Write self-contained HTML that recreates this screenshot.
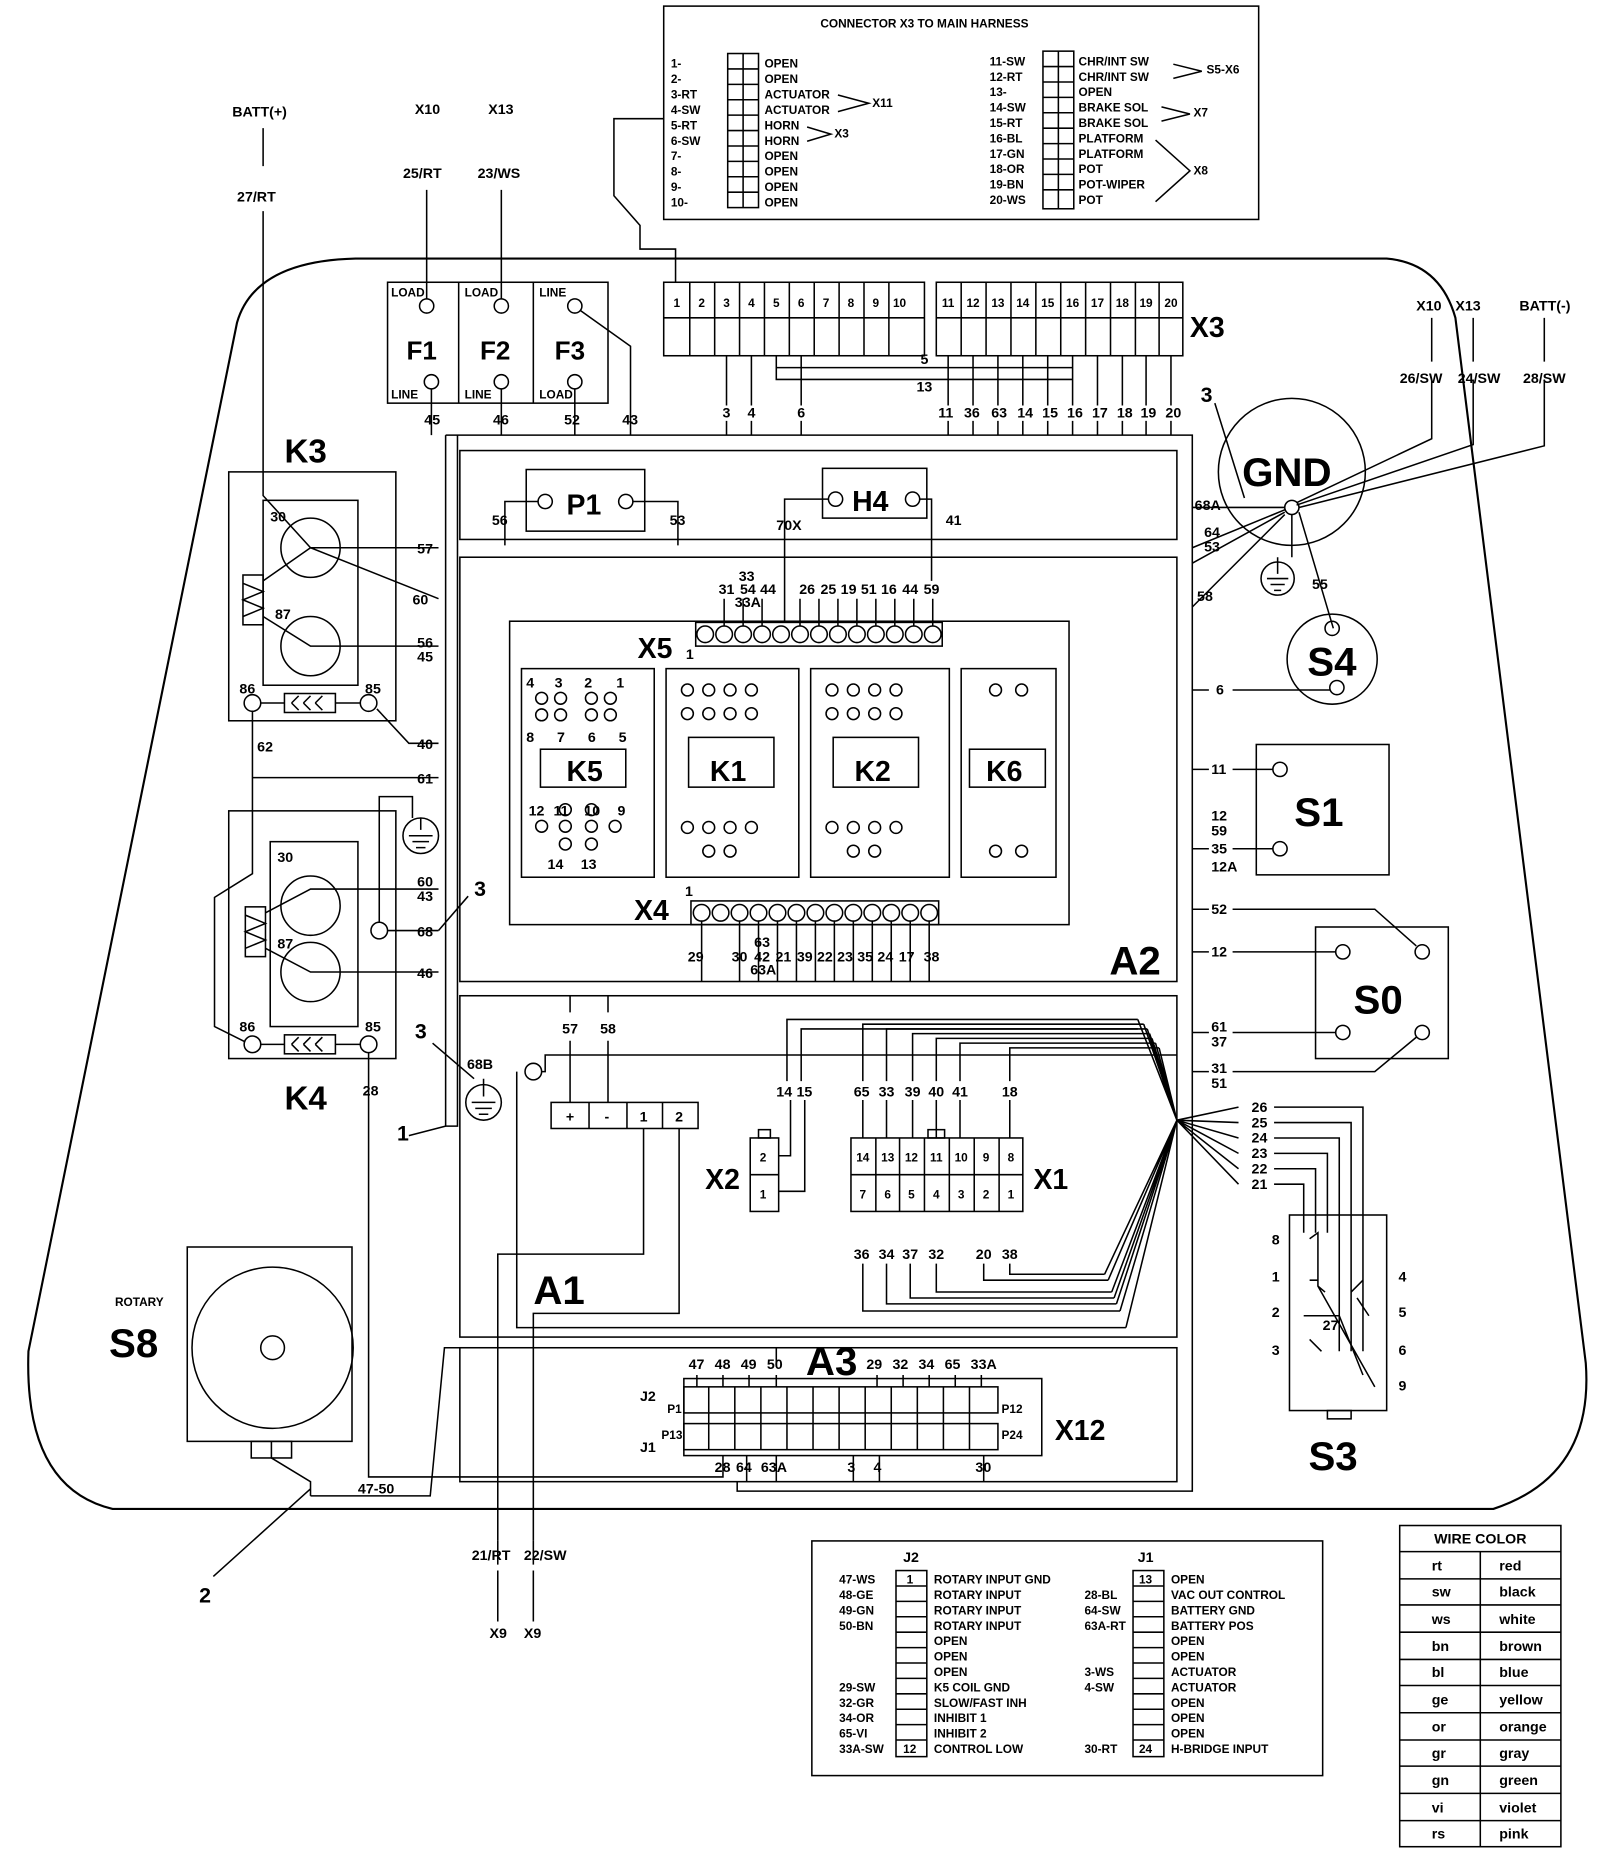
<!DOCTYPE html>
<html><head><meta charset="utf-8"><style>
html,body{margin:0;padding:0;background:#fff}
svg{display:block}
text{font-family:"Liberation Sans",sans-serif;font-weight:bold;fill:#000}
.s{font-size:10px}.m{font-size:12px}.b{font-size:26px}.xl{font-size:34px}
</style></head><body>
<svg width="1600" height="1854" viewBox="0 0 1350 1564" xmlns="http://www.w3.org/2000/svg" fill="none" stroke="#000" stroke-width="1.3">
<path d="M300 218 L1170 218 Q1215 222 1228 268 L1338 1150 Q1345 1245 1260 1273 L95 1273 Q20 1255 24 1140 L200 272 Q215 220 300 218 Z" stroke-width="1.8"/>
<rect x="560" y="5" width="502" height="180"/>
<text x="780" y="23" class="s" text-anchor="middle" stroke="none">CONNECTOR X3 TO MAIN HARNESS</text>
<g stroke="none" class="s">
<text x="566" y="57" class="s">1-</text><text x="566" y="70" class="s">2-</text><text x="566" y="83" class="s">3-RT</text><text x="566" y="96" class="s">4-SW</text><text x="566" y="109" class="s">5-RT</text><text x="566" y="122" class="s">6-SW</text><text x="566" y="135" class="s">7-</text><text x="566" y="148" class="s">8-</text><text x="566" y="161" class="s">9-</text><text x="566" y="174" class="s">10-</text>
<text x="645" y="57" class="s">OPEN</text><text x="645" y="70" class="s">OPEN</text><text x="645" y="83" class="s">ACTUATOR</text><text x="645" y="96" class="s">ACTUATOR</text><text x="645" y="109" class="s">HORN</text><text x="645" y="122" class="s">HORN</text><text x="645" y="135" class="s">OPEN</text><text x="645" y="148" class="s">OPEN</text><text x="645" y="161" class="s">OPEN</text><text x="645" y="174" class="s">OPEN</text>
<text x="835" y="55" class="s">11-SW</text><text x="835" y="68" class="s">12-RT</text><text x="835" y="81" class="s">13-</text><text x="835" y="94" class="s">14-SW</text><text x="835" y="107" class="s">15-RT</text><text x="835" y="120" class="s">16-BL</text><text x="835" y="133" class="s">17-GN</text><text x="835" y="146" class="s">18-OR</text><text x="835" y="159" class="s">19-BN</text><text x="835" y="172" class="s">20-WS</text>
<text x="910" y="55" class="s">CHR/INT SW</text><text x="910" y="68" class="s">CHR/INT SW</text><text x="910" y="81" class="s">OPEN</text><text x="910" y="94" class="s">BRAKE SOL</text><text x="910" y="107" class="s">BRAKE SOL</text><text x="910" y="120" class="s">PLATFORM</text><text x="910" y="133" class="s">PLATFORM</text><text x="910" y="146" class="s">POT</text><text x="910" y="159" class="s">POT-WIPER</text><text x="910" y="172" class="s">POT</text>
<text x="736" y="90" class="s">X11</text><text x="704" y="116" class="s">X3</text><text x="1018" y="62" class="s">S5-X6</text><text x="1007" y="98" class="s">X7</text><text x="1007" y="147" class="s">X8</text>
</g>
<rect x="614" y="45" width="26" height="130"/><line x1="627" y1="45" x2="627" y2="175"/>
<rect x="880" y="43" width="26" height="133"/><line x1="893" y1="43" x2="893" y2="176"/>
<path d="M614 58H640M614 71H640M614 84H640M614 97H640M614 110H640M614 123H640M614 136H640M614 149H640M614 162H640"/>
<path d="M880 56H906M880 69H906M880 82H906M880 95H906M880 108H906M880 121H906M880 134H906M880 147H906M880 160H906"/>
<path d="M707 80L733 87L707 94M681 107L701 113L681 119M990 54L1014 60L990 66M980 90L1004 96L980 102M975 118L1004 144L975 170"/>
<rect x="327" y="238" width="186" height="102"/><line x1="387" y1="238" x2="387" y2="340"/><line x1="450" y1="238" x2="450" y2="340"/>
<g stroke="none"><text x="330" y="250" class="s">LOAD</text><text x="392" y="250" class="s">LOAD</text><text x="455" y="250" class="s">LINE</text>
<text x="330" y="336" class="s">LINE</text><text x="392" y="336" class="s">LINE</text><text x="455" y="336" class="s">LOAD</text>
<text x="343" y="303" class="b" style="font-size:22px">F1</text><text x="405" y="303" class="b" style="font-size:22px">F2</text><text x="468" y="303" class="b" style="font-size:22px">F3</text></g>
<circle cx="360" cy="258" r="6"/><circle cx="423" cy="258" r="6"/><circle cx="485" cy="258" r="6"/>
<circle cx="364" cy="322" r="6"/><circle cx="423" cy="322" r="6"/><circle cx="485" cy="322" r="6"/>
<path d="M360 252V160M423 252V160M490 262L532 292V367M364 328V367M423 328V367M485 328V367"/>
<g stroke="none"><text x="350" y="96" class="m">X10</text><text x="412" y="96" class="m">X13</text><text x="340" y="150" class="m">25/RT</text><text x="403" y="150" class="m">23/WS</text>
<text x="196" y="98" class="m">BATT(+)</text><text x="200" y="170" class="m">27/RT</text>
<text x="358" y="358" class="m">45</text><text x="416" y="358" class="m">46</text><text x="476" y="358" class="m">52</text><text x="525" y="358" class="m">43</text></g>
<path d="M222 108V140M222 178V418L262 462L370 505M262 462H370"/>
<rect x="560" y="238" width="220" height="62"/><line x1="560" y1="268" x2="780" y2="268"/>
<rect x="790" y="238" width="208" height="62"/><line x1="790" y1="268" x2="998" y2="268"/>
<path d="M582 238V300M603 238V300M624 238V300M645 238V300M666 238V300M687 238V300M708 238V300M729 238V300M750 238V300"/>
<path d="M811 238V300M832 238V300M853 238V300M874 238V300M895 238V300M916 238V300M937 238V300M958 238V300M978 238V300"/>
<g stroke="none" class="s" text-anchor="middle">
<text x="571" y="259">1</text><text x="592" y="259">2</text><text x="613" y="259">3</text><text x="634" y="259">4</text><text x="655" y="259">5</text><text x="676" y="259">6</text><text x="697" y="259">7</text><text x="718" y="259">8</text><text x="739" y="259">9</text><text x="759" y="259">10</text>
<text x="800" y="259">11</text><text x="821" y="259">12</text><text x="842" y="259">13</text><text x="863" y="259">14</text><text x="884" y="259">15</text><text x="905" y="259">16</text><text x="926" y="259">17</text><text x="947" y="259">18</text><text x="967" y="259">19</text><text x="988" y="259">20</text>
</g>
<text x="1004" y="284" class="b" stroke="none" style="font-size:24px">X3</text>
<path d="M570 238V210H540V190L518 165V100H560"/>
<path d="M613 300V342M634 300V342M676 300V342M655 300V310H905V300M655 300V320H905M821 300V342M842 300V342M800 300V342M863 300V342M884 300V342M905 300V342M926 300V342M947 300V342M967 300V342M988 300V342M676 300V320"/>
<g stroke="none" class="m" text-anchor="middle"><text x="780" y="307">5</text><text x="780" y="330">13</text>
<text x="613" y="352">3</text><text x="634" y="352">4</text><text x="676" y="352">6</text><text x="798" y="352">11</text><text x="820" y="352">36</text><text x="843" y="352">63</text><text x="865" y="352">14</text><text x="886" y="352">15</text><text x="907" y="352">16</text><text x="928" y="352">17</text><text x="949" y="352">18</text><text x="969" y="352">19</text><text x="990" y="352">20</text></g>
<path d="M613 355V367M634 355V367M676 355V367M800 355V367M821 355V367M842 355V367M863 355V367M884 355V367M905 355V367M926 355V367M947 355V367M967 355V367M988 355V367"/>
<path d="M376 367H1006V1258H622V1250M376 367V950H386V367"/>
<rect x="388" y="380" width="605" height="75"/>
<rect x="388" y="470" width="605" height="358"/>
<rect x="388" y="840" width="605" height="288"/>
<rect x="388" y="1137" width="605" height="113"/>
<rect x="444" y="396" width="100" height="52"/><circle cx="460" cy="423" r="6"/><circle cx="528" cy="423" r="6"/>
<text x="478" y="434" class="b" stroke="none" style="font-size:24px">P1</text>
<rect x="694" y="395" width="88" height="42"/><circle cx="705" cy="421" r="6"/><circle cx="770" cy="421" r="6"/>
<text x="719" y="431" class="b" stroke="none" style="font-size:24px">H4</text>
<path d="M454 423H426V460M534 423H572V460M699 421H662V525M776 421H786V490"/>
<g stroke="none" class="m"><text x="415" y="443">56</text><text x="565" y="443">53</text><text x="655" y="447">70X</text><text x="798" y="443">41</text>
<text x="1008" y="430">68A</text><text x="1016" y="453">64</text><text x="1016" y="465">53</text><text x="1010" y="507">58</text></g>
<rect x="587" y="525" width="208" height="20"/>
<g><circle cx="595" cy="535" r="7"/><circle cx="611" cy="535" r="7"/><circle cx="627" cy="535" r="7"/><circle cx="643" cy="535" r="7"/><circle cx="659" cy="535" r="7"/><circle cx="675" cy="535" r="7"/><circle cx="691" cy="535" r="7"/><circle cx="707" cy="535" r="7"/><circle cx="723" cy="535" r="7"/><circle cx="739" cy="535" r="7"/><circle cx="755" cy="535" r="7"/><circle cx="771" cy="535" r="7"/><circle cx="787" cy="535" r="7"/></g>
<path d="M611 505V528M627 505V528M643 505V528M675 505V528M691 505V528M707 505V528M723 505V528M739 505V528M755 505V528M771 505V528M787 505V528"/>
<g stroke="none" class="m" text-anchor="middle"><text x="613" y="501">31</text><text x="630" y="490">33</text><text x="631" y="501">54</text><text x="648" y="501">44</text><text x="631" y="512">33A</text><text x="681" y="501">26</text><text x="699" y="501">25</text><text x="716" y="501">19</text><text x="733" y="501">51</text><text x="750" y="501">16</text><text x="768" y="501">44</text><text x="786" y="501">59</text><text x="582" y="556">1</text></g>
<text x="538" y="555" class="b" stroke="none" style="font-size:24px">X5</text>
<rect x="430" y="524" width="472" height="256"/>
<rect x="440" y="564" width="112" height="176"/><rect x="562" y="564" width="112" height="176"/><rect x="684" y="564" width="117" height="176"/><rect x="811" y="564" width="80" height="176"/>
<rect x="456" y="632" width="72" height="32"/><rect x="581" y="622" width="72" height="42"/><rect x="703" y="622" width="72" height="42"/><rect x="818" y="632" width="64" height="32"/>
<g stroke="none"><text x="478" y="659" class="b" style="font-size:24px">K5</text><text x="599" y="659" class="b" style="font-size:24px">K1</text><text x="721" y="659" class="b" style="font-size:24px">K2</text><text x="832" y="659" class="b" style="font-size:24px">K6</text></g>
<g>
<circle cx="457" cy="589" r="5"/><circle cx="473" cy="589" r="5"/><circle cx="499" cy="589" r="5"/><circle cx="515" cy="589" r="5"/>
<circle cx="457" cy="603" r="5"/><circle cx="473" cy="603" r="5"/><circle cx="499" cy="603" r="5"/><circle cx="515" cy="603" r="5"/>
<circle cx="457" cy="697" r="5"/><circle cx="477" cy="697" r="5"/><circle cx="499" cy="697" r="5"/><circle cx="519" cy="697" r="5"/>
<circle cx="477" cy="683" r="5"/><circle cx="499" cy="683" r="5"/><circle cx="477" cy="712" r="5"/><circle cx="499" cy="712" r="5"/>
<circle cx="580" cy="582" r="5"/><circle cx="598" cy="582" r="5"/><circle cx="616" cy="582" r="5"/><circle cx="634" cy="582" r="5"/>
<circle cx="580" cy="602" r="5"/><circle cx="598" cy="602" r="5"/><circle cx="616" cy="602" r="5"/><circle cx="634" cy="602" r="5"/>
<circle cx="580" cy="698" r="5"/><circle cx="598" cy="698" r="5"/><circle cx="616" cy="698" r="5"/><circle cx="634" cy="698" r="5"/><circle cx="598" cy="718" r="5"/><circle cx="616" cy="718" r="5"/>
<circle cx="702" cy="582" r="5"/><circle cx="720" cy="582" r="5"/><circle cx="738" cy="582" r="5"/><circle cx="756" cy="582" r="5"/>
<circle cx="702" cy="602" r="5"/><circle cx="720" cy="602" r="5"/><circle cx="738" cy="602" r="5"/><circle cx="756" cy="602" r="5"/>
<circle cx="702" cy="698" r="5"/><circle cx="720" cy="698" r="5"/><circle cx="738" cy="698" r="5"/><circle cx="756" cy="698" r="5"/><circle cx="720" cy="718" r="5"/><circle cx="738" cy="718" r="5"/>
<circle cx="840" cy="582" r="5"/><circle cx="862" cy="582" r="5"/><circle cx="840" cy="718" r="5"/><circle cx="862" cy="718" r="5"/>
</g>
<g stroke="none" class="m"><text x="444" y="580">4</text><text x="468" y="580">3</text><text x="493" y="580">2</text><text x="520" y="580">1</text><text x="444" y="626">8</text><text x="470" y="626">7</text><text x="496" y="626">6</text><text x="522" y="626">5</text>
<text x="446" y="688">12</text><text x="467" y="688">11</text><text x="493" y="688">10</text><text x="521" y="688">9</text><text x="462" y="733">14</text><text x="490" y="733">13</text></g>
<rect x="583" y="760" width="209" height="20"/>
<g><circle cx="592" cy="770" r="7"/><circle cx="608" cy="770" r="7"/><circle cx="624" cy="770" r="7"/><circle cx="640" cy="770" r="7"/><circle cx="656" cy="770" r="7"/><circle cx="672" cy="770" r="7"/><circle cx="688" cy="770" r="7"/><circle cx="704" cy="770" r="7"/><circle cx="720" cy="770" r="7"/><circle cx="736" cy="770" r="7"/><circle cx="752" cy="770" r="7"/><circle cx="768" cy="770" r="7"/><circle cx="784" cy="770" r="7"/></g>
<text x="535" y="776" class="b" stroke="none" style="font-size:24px">X4</text><text x="578" y="756" class="m" stroke="none">1</text>
<path d="M592 777V828M624 777V828M640 777V828M656 777V828M672 777V828M688 777V828M704 777V828M720 777V828M736 777V828M752 777V828M768 777V828M784 777V828"/>
<g stroke="none" class="m" text-anchor="middle"><text x="587" y="811">29</text><text x="624" y="811">30</text><text x="643" y="799">63</text><text x="643" y="811">42</text><text x="644" y="822">63A</text><text x="661" y="811">21</text><text x="679" y="811">39</text><text x="696" y="811">22</text><text x="713" y="811">23</text><text x="730" y="811">35</text><text x="747" y="811">24</text><text x="765" y="811">17</text><text x="786" y="811">38</text></g>
<text x="936" y="822" class="xl" stroke="none">A2</text>
<rect x="193" y="398" width="141" height="210"/><rect x="222" y="422" width="80" height="156"/>
<circle cx="262" cy="462" r="25"/><circle cx="262" cy="545" r="25"/>
<rect x="205" y="485" width="17" height="42"/><path d="M205 492L222 499L205 506L222 513L205 520"/>
<path d="M222 490L262 462M222 520L262 545L370 545"/>
<circle cx="213" cy="593" r="7"/><circle cx="311" cy="593" r="7"/><rect x="240" y="585" width="43" height="16"/>
<path d="M220 593H240M283 593H304M246 593L252 587M246 593L252 599M256 593L262 587M256 593L262 599M266 593L272 587M266 593L272 599M318 598L345 627H370"/>
<g stroke="none"><text x="240" y="390" class="b" style="font-size:28px">K3</text><text x="228" y="440" class="m">30</text><text x="232" y="522" class="m">87</text><text x="202" y="585" class="m">86</text><text x="308" y="585" class="m">85</text><text x="217" y="634" class="m">62</text></g>
<rect x="193" y="684" width="141" height="209"/><rect x="228" y="710" width="74" height="156"/>
<circle cx="262" cy="764" r="25"/><circle cx="262" cy="820" r="25"/>
<rect x="207" y="765" width="17" height="42"/><path d="M207 772L224 779L207 786L224 793L207 800"/>
<path d="M224 770L262 750L370 750M224 800L262 820L370 820"/>
<circle cx="213" cy="881" r="7"/><circle cx="311" cy="881" r="7"/><rect x="240" y="873" width="43" height="16"/>
<path d="M220 881H240M283 881H304M246 881L252 875M246 881L252 887M256 881L262 875M256 881L262 887M266 881L272 875M266 881L272 887"/>
<g stroke="none"><text x="240" y="936" class="b" style="font-size:28px">K4</text><text x="234" y="727" class="m">30</text><text x="234" y="800" class="m">87</text><text x="202" y="870" class="m">86</text><text x="308" y="870" class="m">85</text><text x="306" y="924" class="m">28</text></g>
<path d="M213 600V656H370M213 656V737L181 757V866L207 879"/>
<path d="M311 888V1246H610V1228"/>
<path d="M655 1153V1137H375L363 1262H262"/>
<circle cx="320" cy="785" r="7"/><path d="M320 778V672H348V690M327 785H370"/>
<circle cx="355" cy="705" r="15"/><path d="M355 690V700M345 705H365M348 710H362M351 715H359"/>
<path d="M395 756L370 785"/>
<g stroke="none" class="m"><text x="352" y="467">57</text><text x="348" y="510">60</text><text x="352" y="546">56</text><text x="352" y="558">45</text><text x="352" y="632">40</text><text x="352" y="661">61</text><text x="352" y="748">60</text><text x="352" y="760">43</text><text x="352" y="790">68</text><text x="352" y="825">46</text>
<text x="400" y="756" style="font-size:18px">3</text><text x="350" y="876" style="font-size:18px">3</text><text x="335" y="962" style="font-size:18px">1</text></g>
<circle cx="408" cy="930" r="15"/><path d="M408 910V925M398 930H418M401 935H415M404 940H412M365 880L400 910M376 950L345 958"/>
<text x="394" y="902" class="m" stroke="none">68B</text>
<circle cx="450" cy="904" r="7"/><path d="M457 904H460V890H993M436 904V1120H950"/>
<rect x="465" y="930" width="124" height="22"/><path d="M497 930V952M529 930V952M559 930V952"/>
<g stroke="none" class="m" text-anchor="middle"><text x="481" y="946">+</text><text x="512" y="946">-</text><text x="543" y="946">1</text><text x="573" y="946">2</text>
<text x="481" y="872">57</text><text x="513" y="872">58</text></g>
<path d="M481 930V878M481 854V840M513 930V878M513 854V840M543 952V1058H420V1300M573 952V1108H450V1300"/>
<text x="450" y="1100" class="xl" stroke="none">A1</text>
<rect x="633" y="960" width="24" height="62"/><line x1="633" y1="991" x2="657" y2="991"/><rect x="640" y="953" width="10" height="7"/>
<text x="641" y="980" class="s" stroke="none">2</text><text x="641" y="1011" class="s" stroke="none">1</text>
<text x="595" y="1003" class="b" stroke="none" style="font-size:24px">X2</text>
<path d="M657 975H667V928M657 1005H679V928M664 912V860H960M676 912V868H960"/>
<g stroke="none" class="m"><text x="655" y="925">14</text><text x="672" y="925">15</text></g>
<rect x="718" y="960" width="145" height="62"/><line x1="718" y1="991" x2="863" y2="991"/>
<path d="M739 960V1022M759 960V1022M780 960V1022M801 960V1022M822 960V1022M843 960V1022"/><rect x="783" y="953" width="14" height="7"/>
<g stroke="none" class="s" text-anchor="middle"><text x="728" y="980">14</text><text x="749" y="980">13</text><text x="769" y="980">12</text><text x="790" y="980">11</text><text x="811" y="980">10</text><text x="832" y="980">9</text><text x="853" y="980">8</text>
<text x="728" y="1011">7</text><text x="749" y="1011">6</text><text x="769" y="1011">5</text><text x="790" y="1011">4</text><text x="811" y="1011">3</text><text x="832" y="1011">2</text><text x="853" y="1011">1</text></g>
<text x="872" y="1003" class="b" stroke="none" style="font-size:24px">X1</text>
<g stroke="none" class="m" text-anchor="middle"><text x="727" y="925">65</text><text x="748" y="925">33</text><text x="770" y="925">39</text><text x="790" y="925">40</text><text x="810" y="925">41</text><text x="852" y="925">18</text>
<text x="727" y="1062">36</text><text x="748" y="1062">34</text><text x="768" y="1062">37</text><text x="790" y="1062">32</text><text x="830" y="1062">20</text><text x="852" y="1062">38</text></g>
<path d="M728 928V960M748 928V960M770 928V960M790 928V960M810 928V960M852 928V960M728 912V864H965M748 912V868H968M770 912V872H970M790 912V876H972M810 912V880H975M852 912V884H978"/>
<path d="M728 1066V1106H945M748 1066V1100H942M768 1066V1095H940M790 1066V1090H938M830 1066V1080H935M852 1066V1075H932"/>
<path d="M960 860L993 945L950 1120M965 864L993 945L945 1106M968 868L993 945L942 1100M970 872L993 945L940 1095M972 876L993 945L938 1090M975 880L993 945L935 1080M978 884L993 945L932 1075"/>
<path d="M993 945L1045 934M993 945L1045 947M993 945L1045 960M993 945L1045 973M993 945L1045 986M993 945L1045 999"/>
<path d="M1075 934H1150V1140M1075 947H1140V1140M1075 960H1130V1140M1075 973H1120V1040M1075 986H1110V1040M1075 999H1100V1040"/>
<g stroke="none" class="m"><text x="1056" y="938">26</text><text x="1056" y="951">25</text><text x="1056" y="964">24</text><text x="1056" y="977">23</text><text x="1056" y="990">22</text><text x="1056" y="1003">21</text></g>
<text x="680" y="1160" class="xl" stroke="none">A3</text>
<rect x="577" y="1163" width="302" height="65"/>
<rect x="577" y="1170" width="265" height="22"/><rect x="577" y="1201" width="265" height="22"/>
<path d="M598 1170V1223M620 1170V1223M642 1170V1223M664 1170V1223M686 1170V1223M708 1170V1223M730 1170V1223M752 1170V1223M774 1170V1223M796 1170V1223M818 1170V1223"/>
<g stroke="none" class="m"><text x="540" y="1182">J2</text><text x="540" y="1225">J1</text><text x="563" y="1192" class="s">P1</text><text x="558" y="1214" class="s">P13</text><text x="845" y="1192" class="s">P12</text><text x="845" y="1214" class="s">P24</text>
<text x="581" y="1155">47</text><text x="603" y="1155">48</text><text x="625" y="1155">49</text><text x="647" y="1155">50</text><text x="731" y="1155">29</text><text x="753" y="1155">32</text><text x="775" y="1155">34</text><text x="797" y="1155">65</text><text x="819" y="1155">33A</text>
<text x="603" y="1242">28</text><text x="621" y="1242">64</text><text x="642" y="1242">63A</text><text x="715" y="1242">3</text><text x="737" y="1242">4</text><text x="823" y="1242">30</text></g>
<text x="890" y="1215" class="b" stroke="none" style="font-size:24px">X12</text>
<path d="M588 1160V1170M610 1160V1170M632 1160V1170M655 1160V1170M740 1160V1170M762 1160V1170M784 1160V1170M806 1160V1170M828 1160V1170M630 1228V1250M655 1228V1250M720 1228V1250M742 1228V1250M830 1228V1250"/>
<rect x="158" y="1052" width="139" height="164"/><circle cx="230" cy="1137" r="68"/><circle cx="230" cy="1137" r="10"/>
<rect x="212" y="1216" width="34" height="14"/><line x1="229" y1="1216" x2="229" y2="1230"/>
<path d="M229 1230L262 1250V1262M262 1256L180 1330"/>
<g stroke="none"><text x="97" y="1102" class="s">ROTARY</text><text x="92" y="1145" class="xl">S8</text><text x="302" y="1260" class="m">47-50</text><text x="168" y="1352" style="font-size:18px">2</text>
<text x="398" y="1316" class="m">21/RT</text><text x="442" y="1316" class="m">22/SW</text><text x="413" y="1382" class="m">X9</text><text x="442" y="1382" class="m">X9</text></g>
<path d="M420 1300V1320M450 1300V1320M420 1325V1368M450 1325V1368"/>
<circle cx="1090" cy="398" r="62"/><text x="1048" y="410" class="xl" stroke="none">GND</text>
<circle cx="1090" cy="428" r="6"/>
<path d="M1006 428H1084M1006 462L1084 430M1006 475L1084 432M1006 512L1084 434M1090 434V470M1096 432L1125 530M1094 424L1208 370V320M1094 426L1243 375V320M1096 428L1303 376V320M1050 420L1025 340"/>
<circle cx="1078" cy="488" r="14"/><path d="M1078 470V484M1069 488H1087M1072 493H1084M1075 498H1081"/>
<g stroke="none" class="m"><text x="1195" y="262">X10</text><text x="1228" y="262">X13</text><text x="1282" y="262">BATT(-)</text><text x="1181" y="323">26/SW</text><text x="1230" y="323">24/SW</text><text x="1285" y="323">28/SW</text><text x="1107" y="497">55</text><text x="1013" y="339" style="font-size:18px">3</text></g>
<path d="M1208 268V305M1243 268V305M1303 268V305"/>
<circle cx="1124" cy="556" r="38"/><circle cx="1124" cy="530" r="6"/><circle cx="1128" cy="580" r="6"/>
<text x="1103" y="570" class="xl" stroke="none">S4</text>
<path d="M1006 582H1020M1040 582H1122"/><text x="1026" y="586" class="m" stroke="none">6</text>
<rect x="1060" y="628" width="112" height="110"/><circle cx="1080" cy="649" r="6"/><circle cx="1080" cy="716" r="6"/>
<text x="1092" y="697" class="xl" stroke="none">S1</text>
<path d="M1006 649H1020M1040 649H1074M1006 716H1020M1040 716H1074"/>
<g stroke="none" class="m"><text x="1022" y="653">11</text><text x="1022" y="692">12</text><text x="1022" y="705">59</text><text x="1022" y="720">35</text><text x="1022" y="735">12A</text></g>
<rect x="1110" y="782" width="112" height="111"/><circle cx="1133" cy="803" r="6"/><circle cx="1200" cy="803" r="6"/><circle cx="1133" cy="871" r="6"/><circle cx="1200" cy="871" r="6"/>
<text x="1142" y="855" class="xl" stroke="none">S0</text>
<path d="M1006 767H1020M1040 767H1160L1195 798M1006 803H1020M1040 803H1127M1006 871H1020M1040 871H1127M1006 904H1020M1040 904H1160L1195 875"/>
<g stroke="none" class="m"><text x="1022" y="771">52</text><text x="1022" y="807">12</text><text x="1022" y="870">61</text><text x="1022" y="883">37</text><text x="1022" y="905">31</text><text x="1022" y="918">51</text></g>
<rect x="1088" y="1025" width="82" height="165"/><rect x="1120" y="1190" width="20" height="7"/>
<path d="M1105 1045L1112 1040V1085L1118 1090M1105 1080H1112M1112 1085L1160 1170M1100 1110H1130L1150 1160M1150 1080L1140 1090M1155 1110L1145 1095M1115 1140L1105 1130"/>
<g stroke="none" class="m"><text x="1073" y="1050">8</text><text x="1073" y="1081">1</text><text x="1073" y="1111">2</text><text x="1073" y="1143">3</text><text x="1180" y="1081">4</text><text x="1180" y="1111">5</text><text x="1180" y="1143">6</text><text x="1180" y="1173">9</text><text x="1116" y="1122">27</text>
<text x="1104" y="1240" class="xl">S3</text></g>
<rect x="685" y="1300" width="431" height="198"/>
<text x="762" y="1318" class="m" stroke="none">J2</text><text x="960" y="1318" class="m" stroke="none">J1</text>
<rect x="756" y="1325" width="26" height="157"/><rect x="956" y="1325" width="26" height="157"/>
<path d="M756 1338H782M756 1351H782M756 1364H782M756 1377H782M756 1390H782M756 1403H782M756 1416H782M756 1429H782M756 1442H782M756 1455H782M756 1468H782"/>
<path d="M956 1338H982M956 1351H982M956 1364H982M956 1377H982M956 1390H982M956 1403H982M956 1416H982M956 1429H982M956 1442H982M956 1455H982M956 1468H982"/>
<g stroke="none" class="s">
<text x="765" y="1336">1</text><text x="762" y="1479">12</text><text x="961" y="1336">13</text><text x="961" y="1479">24</text>
<text x="708" y="1336">47-WS</text><text x="708" y="1349">48-GE</text><text x="708" y="1362">49-GN</text><text x="708" y="1375">50-BN</text><text x="708" y="1427">29-SW</text><text x="708" y="1440">32-GR</text><text x="708" y="1453">34-OR</text><text x="708" y="1466">65-VI</text><text x="708" y="1479">33A-SW</text>
<text x="788" y="1336">ROTARY INPUT GND</text><text x="788" y="1349">ROTARY INPUT</text><text x="788" y="1362">ROTARY INPUT</text><text x="788" y="1375">ROTARY INPUT</text><text x="788" y="1388">OPEN</text><text x="788" y="1401">OPEN</text><text x="788" y="1414">OPEN</text><text x="788" y="1427">K5 COIL GND</text><text x="788" y="1440">SLOW/FAST INH</text><text x="788" y="1453">INHIBIT 1</text><text x="788" y="1466">INHIBIT 2</text><text x="788" y="1479">CONTROL LOW</text>
<text x="915" y="1349">28-BL</text><text x="915" y="1362">64-SW</text><text x="915" y="1375">63A-RT</text><text x="915" y="1414">3-WS</text><text x="915" y="1427">4-SW</text><text x="915" y="1479">30-RT</text>
<text x="988" y="1336">OPEN</text><text x="988" y="1349">VAC OUT CONTROL</text><text x="988" y="1362">BATTERY GND</text><text x="988" y="1375">BATTERY POS</text><text x="988" y="1388">OPEN</text><text x="988" y="1401">OPEN</text><text x="988" y="1414">ACTUATOR</text><text x="988" y="1427">ACTUATOR</text><text x="988" y="1440">OPEN</text><text x="988" y="1453">OPEN</text><text x="988" y="1466">OPEN</text><text x="988" y="1479">H-BRIDGE INPUT</text>
</g>
<rect x="1181" y="1287" width="136" height="271"/><line x1="1249" y1="1309" x2="1249" y2="1558"/>
<path d="M1181 1309H1317M1181 1332H1317M1181 1354H1317M1181 1377H1317M1181 1400H1317M1181 1422H1317M1181 1445H1317M1181 1468H1317M1181 1490H1317M1181 1513H1317M1181 1536H1317"/>
<g stroke="none" class="m"><text x="1249" y="1302" text-anchor="middle">WIRE COLOR</text>
<text x="1208" y="1325">rt</text><text x="1208" y="1347">sw</text><text x="1208" y="1370">ws</text><text x="1208" y="1393">bn</text><text x="1208" y="1415">bl</text><text x="1208" y="1438">ge</text><text x="1208" y="1461">or</text><text x="1208" y="1483">gr</text><text x="1208" y="1506">gn</text><text x="1208" y="1529">vi</text><text x="1208" y="1551">rs</text>
<text x="1265" y="1325">red</text><text x="1265" y="1347">black</text><text x="1265" y="1370">white</text><text x="1265" y="1393">brown</text><text x="1265" y="1415">blue</text><text x="1265" y="1438">yellow</text><text x="1265" y="1461">orange</text><text x="1265" y="1483">gray</text><text x="1265" y="1506">green</text><text x="1265" y="1529">violet</text><text x="1265" y="1551">pink</text></g>
</svg>
</body></html>
